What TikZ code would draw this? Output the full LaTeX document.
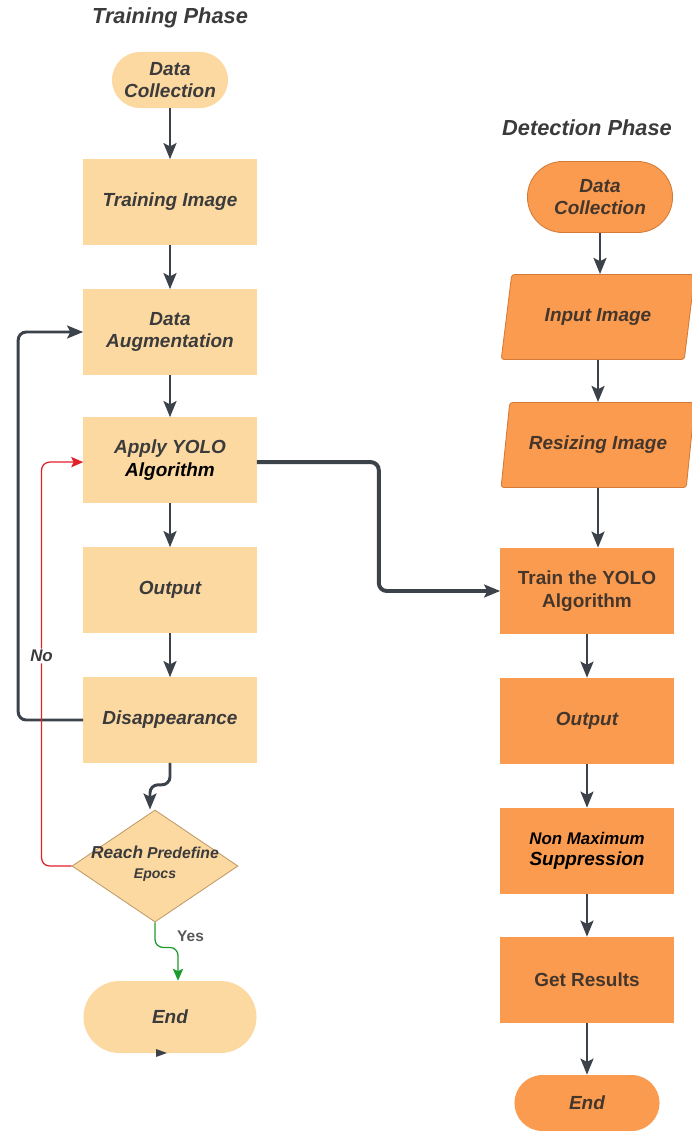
\documentclass[tikz,border=0pt]{standalone}
\usepackage{fontspec}
\setmainfont{Liberation Sans}
\usepackage{tikz}
\usetikzlibrary{arrows.meta,positioning,calc,shapes.geometric}
\usepackage{xcolor}

\definecolor{peachA}{HTML}{FDD9A2}
\definecolor{orangeB}{HTML}{FA9B50}
\definecolor{edgeB}{HTML}{D27A36}
\definecolor{edgeD}{HTML}{BF9A66}
\definecolor{lineC}{HTML}{3C424A}
\definecolor{inkA}{HTML}{3B3B3B}
\definecolor{inkB}{HTML}{45362C}
\definecolor{noRed}{HTML}{E0202A}
\definecolor{yesGreen}{HTML}{1E9A2E}

\newcommand{\boxfont}{\fontsize{13.5}{16.2}\selectfont\bfseries\itshape}
\newcommand{\uprfont}{\fontsize{13.5}{16.2}\selectfont\bfseries}

\begin{document}
\begin{tikzpicture}[x=0.025cm, y=-0.025cm,
  >={Stealth[length=4mm,width=3.2mm,inset=0.8mm]},
  lbox/.style={rectangle, fill=peachA, text=inkA, font=\boxfont, align=center,
    minimum width=4.325cm, minimum height=2.125cm},
  rbox/.style={rectangle, fill=orangeB, text=inkB, font=\boxfont, align=center,
    minimum width=4.325cm, minimum height=2.15cm},
  rslant/.style={trapezium, trapezium left angle=75, trapezium right angle=105,
    trapezium stretches=true, fill=orangeB, draw=edgeB, line width=0.6pt,
    rounded corners=2pt, minimum width=4.85cm, minimum height=2.125cm,
    text=inkB, font=\boxfont},
  decide/.style={diamond, fill=peachA, draw=edgeD, line width=0.6pt, inner sep=0pt,
    minimum width=4.15cm, minimum height=2.8cm},
  phase/.style={font=\fontsize{15.5}{18}\selectfont\bfseries\itshape, text=inkA},
  flow/.style={->, draw=lineC, line width=2.1pt, rounded corners=0.2cm},
  noflow/.style={-{Stealth[length=3mm,width=2.6mm,inset=0.6mm]}, draw=noRed, line width=0.9pt, rounded corners=0.2cm},
  yesflow/.style={-{Stealth[length=3mm,width=2.6mm,inset=0.6mm]}, draw=yesGreen, line width=0.9pt, rounded corners=0.2cm}]
  \useasboundingbox (0,0) rectangle (691,1131);

  % Define nodes: training phase
  \node (trainTitle) [phase] at (170,18) {Training Phase};
  \node (dcA) [lbox, minimum width=2.9cm, minimum height=1.4cm, rounded corners=0.7cm] at (170,80) {Data\\Collection};
  \node (tImg) [lbox] at (170,202) {Training Image};
  \node (dAug) [lbox] at (170,332) {Data\\Augmentation};
  \node (yolo) [lbox] at (170,460) {Apply YOLO\\\textcolor{black}{Algorithm}};
  \node (outA) [lbox] at (170,590) {Output};
  \node (disp) [lbox] at (170,720) {Disappearance};
  \node (reach) [decide] at (155,866) {};
  \node (reachTxt) [align=center, text=inkA] at (155,864)
    {{\fontsize{12.3}{14}\selectfont\bfseries\itshape Reach} {\fontsize{11.2}{14}\selectfont\bfseries\itshape Predefine}\\[2pt]
     {\fontsize{10}{12}\selectfont\bfseries\itshape Epocs}};
  \node (endA) [lbox, minimum height=1.8cm, rounded corners=0.9cm] at (170,1017) {End};

  % Define nodes: detection phase
  \node (detTitle) [phase] at (587,128) {Detection Phase};
  \node (dcB) [rbox, draw=edgeB, line width=0.6pt, minimum width=3.625cm, minimum height=1.775cm, rounded corners=0.88cm] at (600,197) {Data\\Collection};
  \node (inImg) [rslant] at (598,317) {Input Image};
  \node (rsImg) [rslant] at (598,445) {Resizing Image};
  \node (trYolo) [rbox, font=\uprfont] at (587,591) {Train the YOLO\\Algorithm};
  \node (outB) [rbox] at (587,721) {Output};
  \node (nms) [rbox, text=black, font=\fontsize{12}{15}\selectfont\bfseries\itshape] at (587,851) {Non Maximum\\{\fontsize{13.5}{15}\selectfont Suppression}};
  \node (getRes) [rbox, font=\uprfont] at (587,980) {Get Results};
  \node (endB) [rbox, minimum width=3.625cm, minimum height=1.4cm, rounded corners=0.7cm] at (587,1103) {End};

  % Draw arrows
  \draw[flow] (dcA) -- (tImg);
  \draw[flow] (tImg) -- (dAug);
  \draw[flow] (dAug) -- (yolo);
  \draw[flow] (yolo) -- (outA);
  \draw[flow] (outA) -- (disp);
  \draw[flow] (disp.south) -- ++(0,22) -| ($(reach.north)+(-5,0)$);
  \draw[flow] (disp.west) -- ++(-65,0) |- (dAug.west);
  \draw[noflow] (reach.west) -- ++(-30,0) |- node[pos=0.26, fill=white, inner sep=1pt, text=inkA,
    font=\fontsize{12}{14}\selectfont\bfseries\itshape] {No} ([yshift=-1.5pt]yolo.west);
  \draw[yesflow] (reach.south) -- ++(0,25) -| node[pos=0.5, anchor=south west, inner sep=1pt, xshift=-2pt, yshift=3pt,
    text=inkA!85, font=\fontsize{11}{13}\selectfont\bfseries] {Yes} ($(endA.north)+(8,0)$);
  \draw[flow, line width=2.8pt] ([yshift=-1.5pt]yolo.east) -- ++(122,0) |- (trYolo.west);

  \draw[flow] (dcB) -- (dcB |- inImg.north);
  \draw[flow] (inImg.south) -- (inImg.south |- rsImg.north);
  \draw[flow] (rsImg.south) -- (rsImg.south |- trYolo.north);
  \draw[flow] (trYolo) -- (outB);
  \draw[flow] (outB) -- (nms);
  \draw[flow] (nms) -- (getRes);
  \draw[flow] (getRes) -- (endB);

  % stray tip under the end box
  \fill[lineC] (156,1049) -- (167,1053) -- (156,1057) -- cycle;
\end{tikzpicture}
\end{document}
